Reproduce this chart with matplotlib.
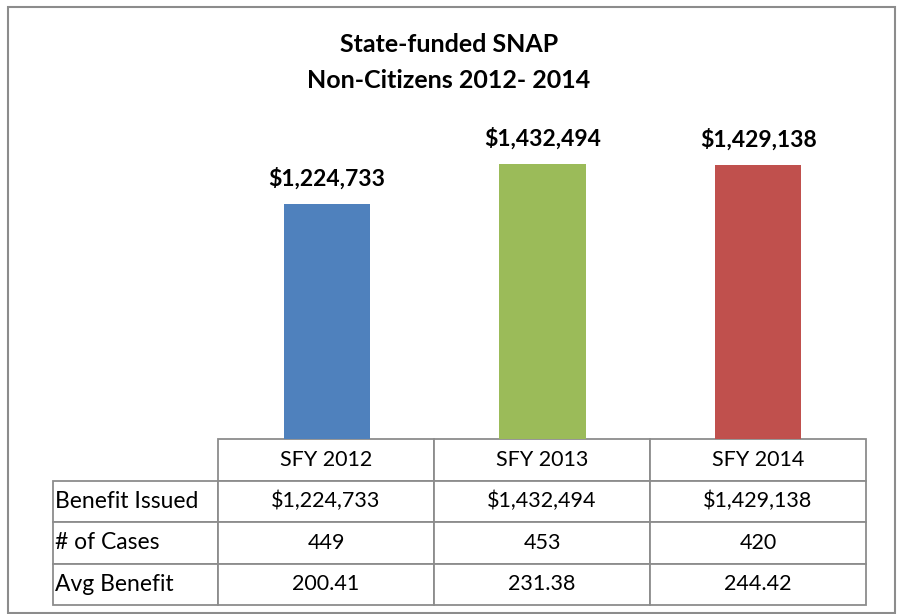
import matplotlib.pyplot as plt
from matplotlib.patches import Rectangle

# chart data
years = ['SFY 2012', 'SFY 2013', 'SFY 2014']
benefit_issued = [1224733, 1432494, 1429138]
num_cases = [449, 453, 420]
avg_benefit = [200.41, 231.38, 244.42]
row_labels = ['Benefit Issued', '# of Cases', 'Avg Benefit']
bar_colors = ['#4F81BD', '#9BBB59', '#C0504D']

plt.rcParams['font.family'] = ['Lato', 'DejaVu Sans']

W, H = 898, 614
fig = plt.figure(figsize=(W / 100, H / 100), dpi=100)

# axes placed in pixel terms
ax_l, ax_r, ax_t, ax_b = 219, 866, 132, 439
ax = fig.add_axes([ax_l / W, 1 - ax_b / H, (ax_r - ax_l) / W, (ax_b - ax_t) / H])

x = range(len(years))
bars = ax.bar(x, benefit_issued, width=0.4, color=bar_colors)
ax.set_xlim(-0.5, len(years) - 0.5)
ax.set_ylim(0, 1600000)
for b, v in zip(bars, benefit_issued):
    ax.annotate(f'${v:,.0f}', (b.get_x() + b.get_width() / 2, v),
                xytext=(0, 13), textcoords='offset points',
                ha='center', va='baseline', fontsize=16.5, fontweight='bold',
                annotation_clip=False)
for s in ax.spines.values():
    s.set_visible(False)
ax.set_xticks([])
ax.set_yticks([])

# data table under the bars
cell_text = [[lab] + vals for lab, vals in zip(row_labels, [
    [f'${v:,.0f}' for v in benefit_issued],
    [str(v) for v in num_cases],
    [f'{v:.2f}' for v in avg_benefit]])]
col_labels = [''] + years
aw = ax_r - ax_l
lab_w = ax_r - 53 - 3 * 216
col_widths = [lab_w / aw] + [216 / aw] * 3
tbl = ax.table(cellText=cell_text, colLabels=col_labels, colWidths=col_widths,
               cellLoc='center',
               bbox=[(53 - ax_l) / aw, (ax_b - 605) / (ax_b - ax_t),
                     (ax_r - 53) / aw, (605 - ax_b) / (ax_b - ax_t)])
tbl.auto_set_font_size(False)
tbl.set_fontsize(15.5)
for (r, c), cell in tbl.get_celld().items():
    cell.set_edgecolor('#8c8c8c')
    cell.set_linewidth(1.3)
    if r == 0 and c == 0:
        cell.visible_edges = ''
    if c == 0 and r > 0:
        cell.get_text().set_ha('left')
        cell.get_text().set_fontsize(16.5)
        cell.PAD = 0.015

# title
fig.text(0.5, 1 - 44 / H, 'State-funded SNAP', ha='center', va='center',
         fontsize=18, fontweight='bold')
fig.text(0.5, 1 - 80 / H, 'Non-Citizens 2012- 2014', ha='center', va='center',
         fontsize=18, fontweight='bold')

# outer chart border
fig.patches.append(Rectangle((8 / W, 1 - 613 / H), 887 / W, 606 / H,
                             transform=fig.transFigure, fill=False,
                             edgecolor='#8c8c8c', linewidth=1.5))

fig.savefig('out.png', dpi=100)
